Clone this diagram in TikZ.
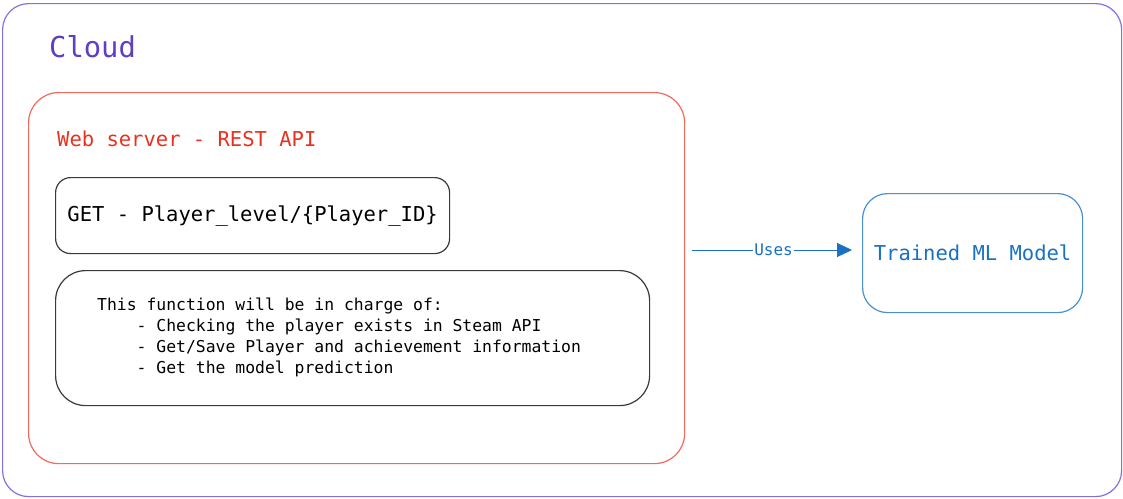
\documentclass[tikz,border=0pt]{standalone}
\usepackage{fontspec}
\setmonofont{DejaVu Sans Mono}
\usepackage{xcolor}
\usetikzlibrary{arrows.meta, positioning, calc}

\definecolor{cloudline}{HTML}{8272E0}
\definecolor{cloudtext}{HTML}{5F3DC4}
\definecolor{webline}{HTML}{F26A5C}
\definecolor{webtext}{HTML}{E8321F}
\definecolor{mlblue}{HTML}{1971C2}
\definecolor{mlline}{HTML}{4A90D0}
\definecolor{boxline}{HTML}{3A3A3A}

\tikzset{
    panel/.style={rectangle, draw, line width=1.2pt, anchor=north west, inner sep=0pt},
    title/.style={anchor=north west, inner sep=0pt, font=\ttfamily},
    usesarrow/.style={draw=mlblue, line width=0.9pt, -{Triangle[length=15pt,width=14pt]}}
}

\begin{document}
\begin{tikzpicture}[x=1pt, y=-1pt]
    \useasboundingbox (0,0) rectangle (1123,498);

    % Cloud
    \node[panel, draw=cloudline, rounded corners=26pt, minimum width=1119pt, minimum height=493pt] (cloud) at (2,3) {};
    \node[title, text=cloudtext, font=\ttfamily\fontsize{28.8}{32}\selectfont] (cloudlbl) at (49,35) {Cloud};

    % Web server
    \node[panel, draw=webline, rounded corners=30pt, minimum width=656pt, minimum height=371pt] (web) at (28,92) {};
    \node[title, text=webtext, font=\ttfamily\fontsize{20.5}{24}\selectfont] (weblbl) at (57,131) {Web server - REST API};

    % Endpoint
    \node[panel, draw=boxline, rounded corners=15pt, minimum width=394pt, minimum height=76pt] (get) at (55,177) {};
    \node[font=\ttfamily\fontsize{20.5}{24}\selectfont] (getlbl) at (get.center) {GET - Player\_level/\{Player\_ID\}};

    % Description
    \node[panel, draw=boxline, rounded corners=30pt, minimum width=594pt, minimum height=135pt] (desc) at (55,270) {};
    \node[title, align=left, font=\ttfamily\fontsize{16.4}{20.8}\selectfont] (desclbl) at (97,298) {
        This function will be in charge of:\\
        \phantom{xxxx}- Checking the player exists in Steam API\\
        \phantom{xxxx}- Get/Save Player and achievement information\\
        \phantom{xxxx}- Get the model prediction
    };

    % ML model
    \node[panel, draw=mlline, rounded corners=25pt, minimum width=220pt, minimum height=119pt] (ml) at (862,193) {};
    \node[text=mlblue, font=\ttfamily\fontsize{20.5}{24}\selectfont] (mllbl) at (ml.center) {Trained ML Model};

    % Uses
    \draw[usesarrow, shorten <=7pt, shorten >=10pt] (web.east |- 0,250) coordinate (usesstart) -- (ml.west |- usesstart)
        node[midway, fill=white, inner sep=1pt, text=mlblue, font=\ttfamily\fontsize{16}{18}\selectfont] (useslbl) {Uses};
\end{tikzpicture}
\end{document}
